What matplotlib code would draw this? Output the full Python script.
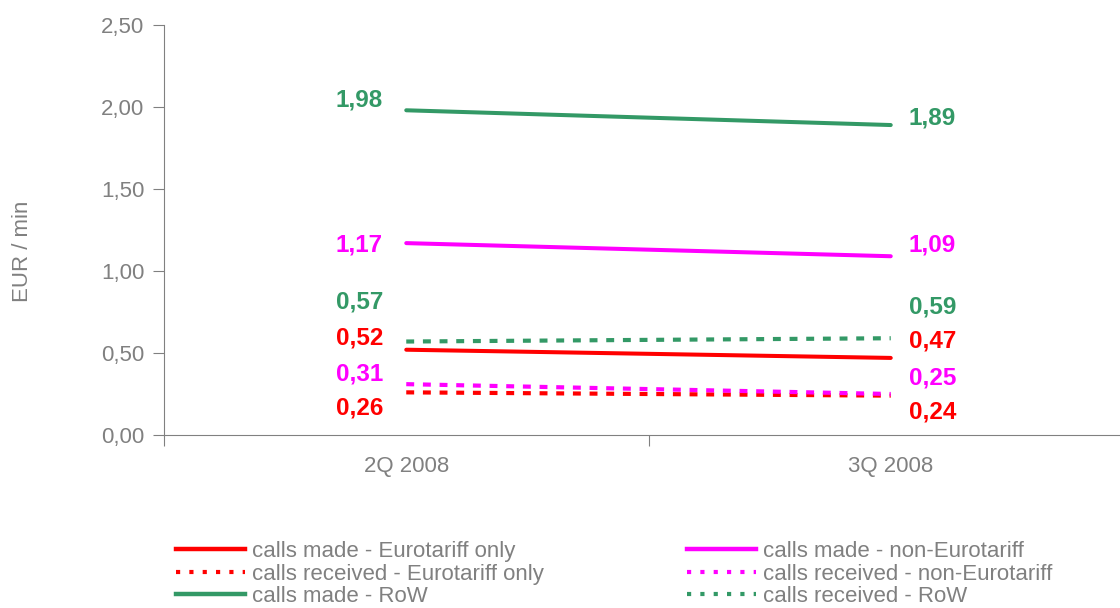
import matplotlib
matplotlib.use("Agg")
import matplotlib.pyplot as plt
from matplotlib.lines import Line2D

categories = ["2Q 2008", "3Q 2008"]
made_euro = [0.52, 0.47]
recv_euro = [0.26, 0.24]
made_non = [1.17, 1.09]
recv_non = [0.31, 0.25]
made_row = [1.98, 1.89]
recv_row = [0.57, 0.59]
yticks = [0.0, 0.5, 1.0, 1.5, 2.0, 2.5]

RED = "#FF0000"
MAG = "#FF00FF"
GRN = "#339966"
GRAY = "#808080"

plt.rcParams['font.family'] = ['Liberation Sans', 'DejaVu Sans']

fig = plt.figure(figsize=(11.2, 6.08), dpi=100)
W, H = 1120, 608
left, right, top, bottom = 164, 1133, 25, 435
ax = fig.add_axes([left / W, 1 - bottom / H, (right - left) / W, (bottom - top) / H])

x = [0, 1]
series = [
    (made_euro, RED, "-", "calls made - Eurotariff only"),
    (recv_euro, RED, "--", "calls received - Eurotariff only"),
    (made_row, GRN, "-", "calls made - RoW"),
    (made_non, MAG, "-", "calls made - non-Eurotariff"),
    (recv_non, MAG, "--", "calls received - non-Eurotariff"),
    (recv_row, GRN, "--", "calls received - RoW"),
]
handles = []
for vals, col, ls, lab in series:
    if ls == "-":
        ax.plot(x, vals, color=col, lw=2.9, solid_capstyle="round", zorder=3)
        handles.append(Line2D([0], [0], color=col, lw=3.2, label=lab))
    else:
        ax.plot(x, vals, color=col, lw=3, linestyle=(0, (1.9, 2.1)), dash_capstyle="butt", zorder=2)
        handles.append(Line2D([0], [0], color=col, lw=3, linestyle=(0, (1.0, 2.2)), label=lab))

# data labels (manual vertical placement, as in the original)
left_labels = [
    (made_row[0], GRN, 2.04), (made_non[0], MAG, 1.16), (recv_row[0], GRN, 0.81),
    (made_euro[0], RED, 0.59), (recv_non[0], MAG, 0.37), (recv_euro[0], RED, 0.165),
]
right_labels = [
    (made_row[1], GRN, 1.93), (made_non[1], MAG, 1.16), (recv_row[1], GRN, 0.78),
    (made_euro[1], RED, 0.573), (recv_non[1], MAG, 0.348), (recv_euro[1], RED, 0.14),
]
for v, col, yy in left_labels:
    ax.text(-0.048, yy, f"{v:.2f}".replace(".", ","), color=col, fontsize=17.5,
            fontweight="bold", ha="right", va="center")
for v, col, yy in right_labels:
    ax.text(1.037, yy, f"{v:.2f}".replace(".", ","), color=col, fontsize=17.5,
            fontweight="bold", ha="left", va="center")

ax.set_xlim(-0.5, 1.5)
ax.set_ylim(0, 2.5)
ax.set_yticks(yticks)
ax.set_yticklabels([f"{t:.2f}".replace(".", ",") for t in yticks])
ax.set_xticks([-0.5, 0.5, 1.5])
ax.set_xticklabels(["", "", ""])
ax.set_xticks(x, minor=True)
ax.set_xticklabels(categories, minor=True)
ax.tick_params(axis="x", which="minor", length=0, pad=15, labelsize=16, labelcolor=GRAY)
ax.tick_params(axis="x", which="major", length=8, color=GRAY, direction="out")
ax.tick_params(axis="y", length=8, color=GRAY, labelsize=16, labelcolor=GRAY, pad=6)
for s in ["top", "right"]:
    ax.spines[s].set_visible(False)
for s in ["left", "bottom"]:
    ax.spines[s].set_color(GRAY)
ax.set_ylabel("EUR / min", fontsize=16, color=GRAY)
ax.yaxis.set_label_coords((33 - left) / (right - left), (bottom - 251) / (bottom - top))

col1 = handles[:3]
col2 = handles[3:]
for hs, xpx in [(col1, 176), (col2, 687)]:
    leg = fig.legend(handles=hs, loc="upper left",
                     bbox_to_anchor=(xpx / W, 1 - 541 / H), frameon=False,
                     fontsize=16, handlelength=3.1, handletextpad=0.3,
                     labelspacing=0.07, borderaxespad=0, borderpad=0)
    for t in leg.get_texts():
        t.set_color(GRAY)

fig.savefig("out.png", dpi=100)
